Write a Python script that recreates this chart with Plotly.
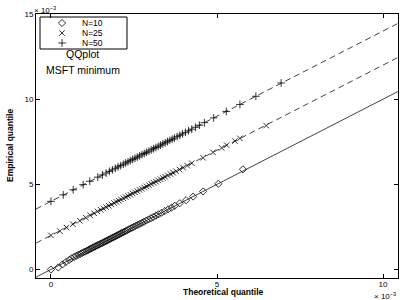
import plotly.graph_objects as go

# ---- data (values in units of 1e-3) ----
x_n10 = [0.00, 0.22, 0.35, 0.45, 0.55, 0.62, 0.70, 0.76, 0.82, 0.88, 0.93, 0.98, 1.03, 1.08, 1.12,
         1.16, 1.20, 1.24, 1.28, 1.32, 1.36, 1.40, 1.44, 1.48, 1.52, 1.56, 1.60, 1.64, 1.68, 1.72,
         1.76, 1.80, 1.84, 1.88, 1.92, 1.96, 2.00, 2.04, 2.08, 2.12, 2.16, 2.20, 2.25, 2.30, 2.35,
         2.40, 2.45, 2.50, 2.56, 2.62, 2.68, 2.74, 2.80, 2.87, 2.94, 3.01, 3.08, 3.16, 3.24, 3.33,
         3.43, 3.53, 3.63, 3.73, 3.88, 4.07, 4.28, 4.58, 5.04, 5.78]
y_n10 = [0.00, 0.12, 0.30, 0.44, 0.56, 0.66, 0.74, 0.80, 0.86, 0.91, 0.96, 1.01, 1.05, 1.10, 1.14,
         1.18, 1.22, 1.26, 1.30, 1.34, 1.38, 1.42, 1.46, 1.50, 1.53, 1.57, 1.61, 1.65, 1.69, 1.73,
         1.77, 1.81, 1.85, 1.89, 1.93, 1.97, 2.01, 2.05, 2.09, 2.13, 2.17, 2.21, 2.26, 2.31, 2.36,
         2.41, 2.46, 2.51, 2.57, 2.62, 2.68, 2.74, 2.80, 2.87, 2.94, 3.01, 3.08, 3.16, 3.24, 3.33,
         3.43, 3.53, 3.63, 3.74, 3.89, 4.07, 4.28, 4.58, 5.03, 5.88]

x_n25 = [0.00, 0.27, 0.47, 0.66, 0.87, 1.05, 1.18, 1.30, 1.40, 1.50, 1.58, 1.66, 1.74, 1.82, 1.90,
         1.97, 2.04, 2.11, 2.18, 2.25, 2.32, 2.39, 2.46, 2.53, 2.60, 2.67, 2.74, 2.81, 2.88, 2.95,
         3.02, 3.09, 3.16, 3.23, 3.30, 3.37, 3.44, 3.52, 3.60, 3.68, 3.77, 3.87, 3.98, 4.10, 4.24,
         4.58, 4.88, 5.14, 5.29, 5.54, 5.69, 6.48]
y_n25 = [2.00, 2.25, 2.46, 2.66, 2.86, 3.04, 3.18, 3.30, 3.41, 3.50, 3.58, 3.66, 3.74, 3.82, 3.90,
         3.97, 4.04, 4.11, 4.18, 4.25, 4.32, 4.39, 4.46, 4.53, 4.60, 4.67, 4.74, 4.81, 4.88, 4.95,
         5.02, 5.09, 5.16, 5.23, 5.30, 5.37, 5.44, 5.52, 5.60, 5.68, 5.77, 5.87, 5.98, 6.10, 6.24,
         6.56, 6.88, 7.14, 7.30, 7.54, 7.70, 8.45]

x_n50 = [0.00, 0.37, 0.67, 0.97, 1.17, 1.41, 1.55, 1.66, 1.76, 1.85, 1.94, 2.02, 2.10, 2.18, 2.25,
         2.32, 2.39, 2.46, 2.53, 2.60, 2.67, 2.74, 2.81, 2.88, 2.95, 3.02, 3.09, 3.16, 3.23, 3.30,
         3.37, 3.44, 3.51, 3.58, 3.65, 3.72, 3.80, 3.88, 3.96, 4.05, 4.14, 4.24, 4.35, 4.47, 4.62,
         4.90, 5.28, 5.69, 6.17, 6.93]
y_n50 = [4.00, 4.38, 4.68, 4.98, 5.18, 5.42, 5.55, 5.66, 5.76, 5.85, 5.94, 6.02, 6.10, 6.18, 6.25,
         6.32, 6.39, 6.46, 6.53, 6.60, 6.67, 6.74, 6.81, 6.88, 6.95, 7.02, 7.09, 7.16, 7.23, 7.30,
         7.37, 7.44, 7.51, 7.58, 7.65, 7.72, 7.80, 7.88, 7.96, 8.05, 8.14, 8.24, 8.35, 8.47, 8.62,
         8.90, 9.28, 9.69, 10.17, 10.95]

series_names = ["N=10", "N=25", "N=50"]
ref_intercepts = [0, 2, 4]          # reference lines y = x + c (units 1e-3)
x_ticks = [0, 5, 10]
y_ticks = [0, 5, 10, 15]
x_range = [-0.45, 10.45]
y_range = [-0.5, 15]

FONT = "Liberation Sans, Arial, Helvetica, sans-serif"
symbols = ["diamond-open", "x-thin-open", "cross-thin-open"]
dashes = ["solid", "6px,4px", "6px,4px"]

fig = go.Figure()

# reference lines spanning the x-axis range
for c, d in zip(ref_intercepts, dashes):
    fig.add_trace(go.Scatter(x=x_range, y=[x_range[0] + c, x_range[1] + c], mode="lines",
                             line=dict(color="#444444", width=1, dash=d),
                             showlegend=False, hoverinfo="skip"))

data = [(x_n10, y_n10), (x_n25, y_n25), (x_n50, y_n50)]
for (xs, ys), name, sym in zip(data, series_names, symbols):
    fig.add_trace(go.Scatter(x=xs, y=ys, mode="markers", name=name, showlegend=False,
                             marker=dict(symbol=sym, size=5.5, color="black",
                                         line=dict(color="black", width=0.8))))

# ---- custom legend (overlay axes in pixel units of the plot area) ----
PW, PH = 362, 264
leg_rows = [9, 19, 29]
for name, sym, ry in zip(series_names, symbols, leg_rows):
    fig.add_trace(go.Scatter(x=[26], y=[ry], xaxis="x2", yaxis="y2", mode="markers",
                             marker=dict(symbol=sym, size=5.5, color="black",
                                         line=dict(color="black", width=0.8)),
                             showlegend=False, hoverinfo="skip"))

annotations = []
for name, ry in zip(series_names, leg_rows):
    annotations.append(dict(x=44, y=ry, xref="x2", yref="y2", text=name, showarrow=False,
                            xanchor="left", yanchor="middle", font=dict(size=8.5, color="black")))
annotations += [
    dict(x=46, y=40, xref="x2", yref="y2", text="QQplot", showarrow=False,
         font=dict(size=10.5, color="black")),
    dict(x=47, y=55.5, xref="x2", yref="y2", text="MSFT minimum", showarrow=False,
         font=dict(size=10.5, color="black")),
    dict(x=0.5166, y=0, xref="paper", yref="paper", yshift=-14, text="<b>Theoretical quantile</b>",
         showarrow=False, yanchor="middle", font=dict(size=8.5, color="black")),
    dict(x=0, y=0.5, xref="paper", yref="paper", xshift=-26, text="<b>Empirical quantile</b>",
         textangle=-90, showarrow=False, xanchor="center", font=dict(size=8.5, color="black")),
    dict(x=0, y=1, xref="paper", yref="paper", xshift=-4, yshift=-3, text="× 10<sup>−3</sup>",
         showarrow=False, xanchor="left", yanchor="bottom", font=dict(size=8, color="black")),
    dict(x=1, y=0, xref="paper", yref="paper", xshift=0, yshift=-25, text="× 10<sup>−3</sup>",
         showarrow=False, xanchor="right", yanchor="bottom", font=dict(size=8, color="black")),
]

axis_common = dict(showgrid=False, zeroline=False, showline=True, linecolor="black", linewidth=1,
                   mirror="ticks", ticks="inside", ticklen=4, tickcolor="black",
                   tickfont=dict(size=8, color="black", family=FONT))

fig.update_layout(
    width=407, height=300,
    margin=dict(l=36, r=9, t=14, b=22),
    paper_bgcolor="white", plot_bgcolor="white",
    font=dict(family=FONT, color="black"),
    showlegend=False,
    xaxis=dict(range=x_range, tickvals=x_ticks, ticktext=[str(v) for v in x_ticks],
               ticklabelstandoff=-2, **axis_common),
    yaxis=dict(range=y_range, tickvals=y_ticks, ticktext=[str(v) for v in y_ticks], **axis_common),
    xaxis2=dict(range=[0, PW], overlaying="x", visible=False, fixedrange=True),
    yaxis2=dict(range=[PH, 0], overlaying="y", visible=False, fixedrange=True),
    shapes=[dict(type="rect", xref="x2", yref="y2", x0=4, x1=91, y0=3, y1=35,
                 line=dict(color="black", width=1), fillcolor="white", layer="below")],
    annotations=annotations,
)

fig.write_html("out.html", config={"displayModeBar": False},
               post_script="document.body.style.margin='0';document.body.style.overflow='hidden';")
